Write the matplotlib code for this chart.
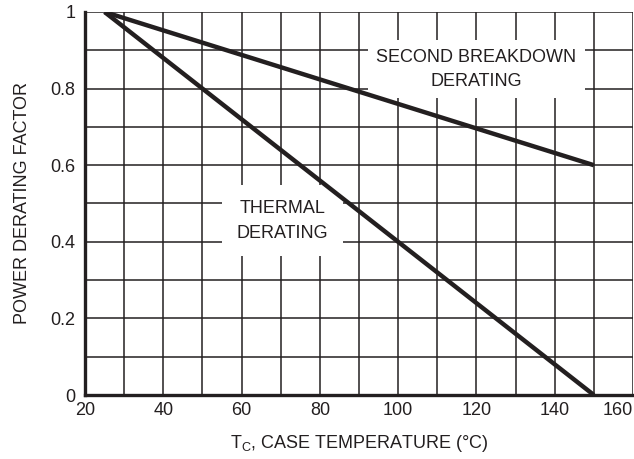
import matplotlib
matplotlib.use('Agg')
import matplotlib.pyplot as plt
from matplotlib.ticker import MultipleLocator

# derating curves
temp_c = [25, 150]
thermal = [1.0, 0.0]
second_breakdown = [1.0, 0.6]

x_ticks = [20, 40, 60, 80, 100, 120, 140, 160]
y_ticks = [0, 0.2, 0.4, 0.6, 0.8, 1.0]
y_tick_labels = ['0', '0.2', '0.4', '0.6', '0.8', '1']

plt.rcParams['font.family'] = ['Liberation Sans', 'DejaVu Sans']
ink = '#231f20'

fig = plt.figure(figsize=(6.34, 4.59), dpi=100)
ax = fig.add_axes([85 / 634, 1 - 395 / 459, 548 / 634, 383 / 459])

ax.set_xlim(20, 160)
ax.set_ylim(0, 1)
ax.set_xticks(x_ticks)
ax.set_yticks(y_ticks)
ax.set_yticklabels(y_tick_labels)
ax.xaxis.set_minor_locator(MultipleLocator(10))
ax.yaxis.set_minor_locator(MultipleLocator(0.1))
ax.grid(which='both', color=ink, lw=1.1)
ax.set_axisbelow(True)
ax.tick_params(which='both', length=0, labelsize=13, colors=ink)
ax.tick_params(axis='x', pad=5)
ax.tick_params(axis='y', pad=7)
# last x label sits inside the figure edge
ax.get_xticklabels()[-1].set_horizontalalignment('right')

for side in ['top', 'right']:
    ax.spines[side].set_visible(False)
for side in ['left', 'bottom']:
    ax.spines[side].set_linewidth(2.4)
    ax.spines[side].set_color(ink)

ax.plot(temp_c, thermal, color=ink, lw=3.2, zorder=5, solid_capstyle='butt')
ax.plot(temp_c, second_breakdown, color=ink, lw=3.2, zorder=5, solid_capstyle='butt')

ax.text(120, 0.85, 'SECOND BREAKDOWN\nDERATING', ha='center', va='center',
        fontsize=13, color=ink, linespacing=1.6,
        bbox=dict(facecolor='white', edgecolor='none', boxstyle='square,pad=0.45'),
        zorder=3)
ax.text(70.5, 0.455, 'THERMAL\nDERATING', ha='center', va='center',
        fontsize=13, color=ink, linespacing=1.6,
        bbox=dict(facecolor='white', edgecolor='none', boxstyle='square,pad=0.8'),
        zorder=3)

ax.set_xlabel('T$_\\mathregular{C}$, CASE TEMPERATURE (°C)', fontsize=13, color=ink, labelpad=10)
ax.set_ylabel('POWER DERATING FACTOR', fontsize=13, color=ink, labelpad=14)

fig.savefig('out.png', dpi=100)
